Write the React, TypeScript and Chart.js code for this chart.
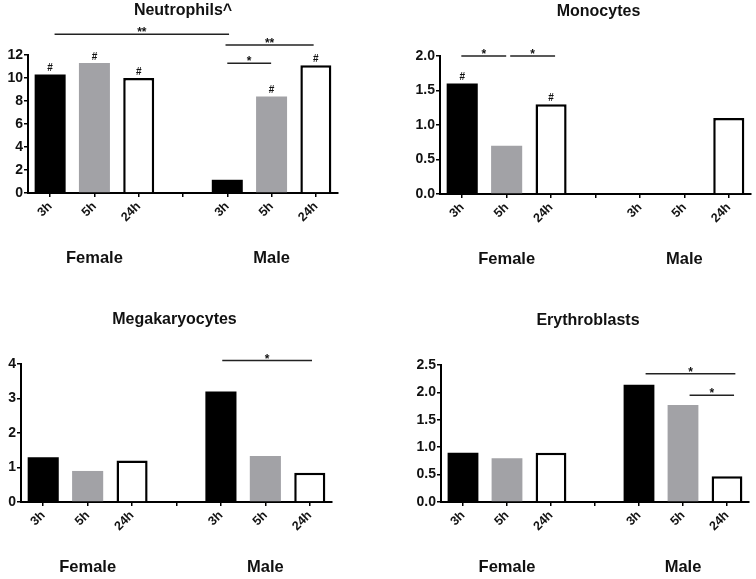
import React, { useEffect, useRef } from 'react';
import { Chart, registerables } from 'chart.js';

Chart.register(...registerables);

// ---------- data ----------
const timeLabels = ['3h', '5h', '24h', '', '3h', '5h', '24h'];
const groupLabels = ['Female', 'Male'];
const groupCenterIndex = [1, 5];

const neutrophils = [10.3, 11.3, 10.0, null, 1.15, 8.4, 11.1];
const monocytes = [1.6, 0.7, 1.3, null, 0, 0, 1.1];
const megakaryocytes = [1.3, 0.9, 1.2, null, 3.2, 1.33, 0.85];
const erythroblasts = [0.9, 0.8, 0.9, null, 2.14, 1.77, 0.47];

const neutrophilsHash = [true, true, true, false, false, true, true];
const monocytesHash = [true, false, true, false, false, false, false];
const noHash = [false, false, false, false, false, false, false];

// [fromIndex, toIndex, yValue, label]
const neutrophilsSig: [number, number, number, string][] = [
  [0.1, 4.04, 13.8, '**'],
  [3.96, 5.95, 12.87, '**'],
  [4.0, 4.99, 11.28, '*'],
];
const monocytesSig: [number, number, number, string][] = [
  [-0.02, 0.99, 2.0, '*'],
  [1.08, 2.09, 2.0, '*'],
];
const megakaryocytesSig: [number, number, number, string][] = [[4.03, 6.05, 4.1, '*']];
const erythroblastsSig: [number, number, number, string][] = [
  [4.15, 6.19, 2.34, '*'],
  [5.15, 6.16, 1.95, '*'],
];

// ---------- styles ----------
const barFill = ['#000000', '#a2a2a6', '#ffffff', '#ffffff', '#000000', '#a2a2a6', '#ffffff'];
const barBorderWidth = [0, 0, 2.5, 0, 0, 0, 2.5];
const FONT = '"Liberation Sans", Arial, sans-serif';

type Panel = {
  title: string;
  values: (number | null)[];
  hashes: boolean[];
  sig: [number, number, number, string][];
  yMax: number;
  yStep: number;
  decimals: number;
  left: number;
  top: number;
  width: number;
  height: number;
  yAxisWidth: number;
  xAxisHeight: number;
  padTop: number;
  padRight: number;
  titleDx: number;
};

const panels: Panel[] = [
  {
    title: 'Neutrophils^', values: neutrophils, hashes: neutrophilsHash, sig: neutrophilsSig,
    yMax: 12, yStep: 2, decimals: 0,
    left: 0, top: 0, width: 378, height: 290,
    yAxisWidth: 28, xAxisHeight: 97, padTop: 55, padRight: 40, titleDx: 0,
  },
  {
    title: 'Monocytes', values: monocytes, hashes: monocytesHash, sig: monocytesSig,
    yMax: 2, yStep: 0.5, decimals: 1,
    left: 378, top: 0, width: 378, height: 290,
    yAxisWidth: 62, xAxisHeight: 96, padTop: 56, padRight: 5, titleDx: 3,
  },
  {
    title: 'Megakaryocytes', values: megakaryocytes, hashes: noHash, sig: megakaryocytesSig,
    yMax: 4, yStep: 1, decimals: 0,
    left: 0, top: 290, width: 378, height: 289,
    yAxisWidth: 21, xAxisHeight: 77, padTop: 74, padRight: 46, titleDx: -2,
  },
  {
    title: 'Erythroblasts', values: erythroblasts, hashes: noHash, sig: erythroblastsSig,
    yMax: 2.5, yStep: 0.5, decimals: 1,
    left: 378, top: 290, width: 378, height: 289,
    yAxisWidth: 63, xAxisHeight: 77, padTop: 75, padRight: 7, titleDx: -7,
  },
];

function PanelChart({ p }: { p: Panel }) {
  const ref = useRef<HTMLCanvasElement | null>(null);

  useEffect(() => {
    if (!ref.current) return;
    const annotate = {
      id: 'annotate',
      afterDraw(chart: any) {
        const ctx = chart.ctx;
        const x = chart.scales.x;
        const y = chart.scales.y;
        const area = chart.chartArea;
        ctx.save();
        ctx.fillStyle = '#111';
        ctx.textAlign = 'center';

        // title
        ctx.font = `bold 16px ${FONT}`;
        ctx.textBaseline = 'middle';
        ctx.fillText(p.title, (area.left + area.right) / 2 + p.titleDx, area.top - 44);

        // group labels
        ctx.font = `bold 16.5px ${FONT}`;
        groupLabels.forEach((g, i) => {
          ctx.fillText(g, x.getPixelForValue(groupCenterIndex[i]), area.bottom + 65);
        });

        // hash markers
        const meta = chart.getDatasetMeta(0);
        ctx.font = `bold 10px ${FONT}`;
        ctx.textBaseline = 'bottom';
        p.hashes.forEach((h, i) => {
          if (!h) return;
          const el = meta.data[i];
          ctx.fillText('#', el.x, el.y - 1);
        });

        // significance brackets
        ctx.strokeStyle = '#222';
        ctx.lineWidth = 1.5;
        ctx.font = `bold 12px ${FONT}`;
        ctx.textBaseline = 'alphabetic';
        p.sig.forEach(([a, b, v, label]) => {
          const x0 = x.getPixelForValue(a);
          const x1 = x.getPixelForValue(b);
          const yy = y.getPixelForValue(v);
          ctx.beginPath();
          ctx.moveTo(x0, yy);
          ctx.lineTo(x1, yy);
          ctx.stroke();
          ctx.fillText(label, (x0 + x1) / 2, yy + 2);
        });
        ctx.restore();
      },
    };

    const chart = new Chart(ref.current, {
      type: 'bar',
      data: {
        labels: timeLabels,
        datasets: [
          {
            data: p.values,
            backgroundColor: barFill,
            borderColor: '#000000',
            borderWidth: barBorderWidth,
            borderSkipped: 'start',
            barPercentage: 0.7,
            categoryPercentage: 1,
          },
        ],
      },
      options: {
        animation: false,
        responsive: false,
        devicePixelRatio: 1,
        layout: { padding: { top: p.padTop, right: p.padRight, left: 0, bottom: 0 } },
        plugins: { legend: { display: false }, tooltip: { enabled: false }, title: { display: false } },
        scales: {
          x: {
            offset: true,
            grid: { display: true, drawOnChartArea: false, drawTicks: true, tickLength: 4, color: '#000', lineWidth: 1.5, offset: false },
            border: { display: true, color: '#000', width: 2 },
            ticks: {
              autoSkip: false,
              minRotation: 45,
              maxRotation: 45,
              padding: 2,
              color: '#111',
              font: { family: FONT, size: 12.5, weight: 'bold' },
            },
            afterFit: (s: any) => { s.height = p.xAxisHeight; },
          },
          y: {
            min: 0,
            max: p.yMax,
            grid: { display: true, drawOnChartArea: false, drawTicks: true, tickLength: 4, color: '#000', lineWidth: 1.5 },
            border: { display: true, color: '#000', width: 2 },
            ticks: {
              stepSize: p.yStep,
              padding: 1,
              color: '#111',
              font: { family: FONT, size: 14, weight: 'bold' },
              callback: (v: any) => Number(v).toFixed(p.decimals),
            },
            afterFit: (s: any) => { s.width = p.yAxisWidth; },
          },
        },
      },
      plugins: [annotate],
    } as any);
    return () => chart.destroy();
  }, [p]);

  return (
    <canvas
      ref={ref}
      width={p.width}
      height={p.height}
      style={{ position: 'absolute', left: p.left, top: p.top, width: p.width, height: p.height }}
    />
  );
}

export default function App() {
  return (
    <div style={{ position: 'absolute', left: 0, top: 0, width: 756, height: 579, background: '#fff' }}>
      {panels.map((p) => (
        <PanelChart key={p.title} p={p} />
      ))}
    </div>
  );
}
